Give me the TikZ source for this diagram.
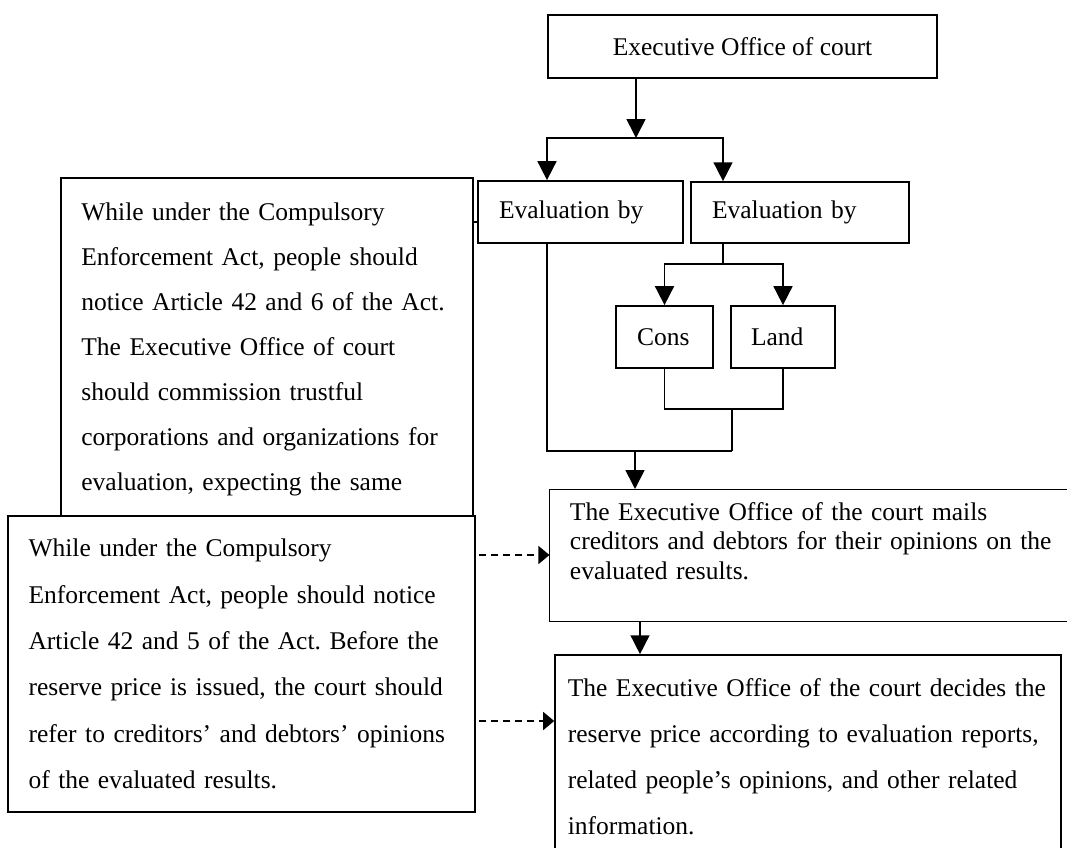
\documentclass[tikz,border=0pt]{standalone}
\usepackage{fontspec}
\setmainfont{Liberation Serif}
\usetikzlibrary{arrows.meta}
\frenchspacing

\tikzset{
  box/.style={draw,line width=0.8pt,fill=white,inner ysep=0pt,align=left,
    font=\fontsize{12pt}{14pt}\selectfont},
  line/.style={line width=0.8pt},
  arr/.style={line width=0.8pt,-{Triangle[length=8.9pt,width=8.9pt]}},
  darr/.style={line width=0.8pt,dash pattern=on 3.3pt off 2.35pt,
    -{Triangle[length=5.2pt,width=8.5pt]}}
}

\begin{document}
\begin{tikzpicture}[x=0.4706pt,y=-0.4706pt]
  \useasboundingbox (0,0) rectangle (1067,847);
  \clip (0,0) rectangle (1067,847);

  % flow on the right
  \node[box,minimum width=183.1pt,minimum height=29.6pt] (top) at (742.5,46.5) {Executive Office of court};
  \node[box,inner xsep=9.9pt,text width=76.7pt,minimum height=29.2pt] (eval1) at (580.5,212) {Evaluation by};
  \node[box,inner xsep=9.9pt,text width=82.8pt,minimum height=28.7pt] (eval2) at (800,212.5) {Evaluation by};
  \node[box,inner xsep=9.9pt,text width=25.8pt,minimum height=29.2pt] (cons) at (664.5,337) {Cons};
  \node[box,inner xsep=9.4pt,text width=30.1pt,minimum height=29.2pt] (land) at (783,337) {Land};
  \node[box,line width=0.5pt,inner xsep=9.4pt,text width=228.3pt,minimum height=62.1pt,
    font=\fontsize{12pt}{13.9pt}\selectfont] (mail) at (812.5,555.5)
    {The Executive Office of the court mails\\
     creditors and debtors for their opinions on the\\
     evaluated results.\\ \mbox{}};
  \node[box,inner xsep=6pt,text width=226.1pt,minimum height=96pt,
    font=\fontsize{12pt}{21.6pt}\selectfont] (decide) at (808,757)
    {The Executive Office of the court decides the\\
     reserve price according to evaluation reports,\\
     related people's opinions, and other related\\
     information.};

  % notes on the left
  \node[box,inner xsep=9.6pt,text width=174.7pt,minimum height=161.6pt,
    font=\fontsize{12pt}{21.2pt}\selectfont] (note1) at (267,349.5)
    {While under the Compulsory\\
     Enforcement Act, people should\\
     notice Article 42 and 6 of the Act.\\
     The Executive Office of court\\
     should commission trustful\\
     corporations and organizations for\\
     evaluation, expecting the same};
  \node[box,inner xsep=9.7pt,text width=200.4pt,minimum height=139.3pt,
    font=\fontsize{12pt}{21.8pt}\selectfont] (note2) at (241.5,664)
    {While under the Compulsory\\
     Enforcement Act, people should notice\\
     Article 42 and 5 of the Act. Before the\\
     reserve price is issued, the court should\\
     refer to creditors' and debtors' opinions\\
     of the evaluated results.};

  \coordinate (split) at (636,138);
  \coordinate (lx) at (547,138);
  \coordinate (rx) at (723,138);
  \coordinate (split2) at (723,264);
  \coordinate (join) at (732,409);
  \coordinate (merge) at (635,451);
  \coordinate (mid) at (640,0);
  \coordinate (d1) at (479,555);
  \coordinate (d2) at (479,721);
  \coordinate (stub) at (473,222);

  \draw[arr] (top.south -| split) -- (split);
  \draw[arr] (split) -| (lx |- eval1.north);
  \draw[arr] (split) -| (rx |- eval2.north);
  \draw[line] (eval2.south -| split2) -- (split2);
  \draw[arr] (split2) -| (cons.north);
  \draw[arr] (split2) -| (land.north);
  \draw[line] (cons.south) |- (join) -| (land.south);
  \draw[line] (join) -- (join |- merge);
  \draw[line] (eval1.south -| lx) |- (join |- merge);
  \draw[arr] (merge) -- (merge |- mail.north);
  \draw[arr] (mail.south -| mid) -- (decide.north -| mid);
  \draw[darr] (d1) -- (d1 -| mail.west);
  \draw[darr] (d2) -- (d2 -| decide.west);
  \draw[line] (stub) -- (stub -| eval1.west);
\end{tikzpicture}
\end{document}
